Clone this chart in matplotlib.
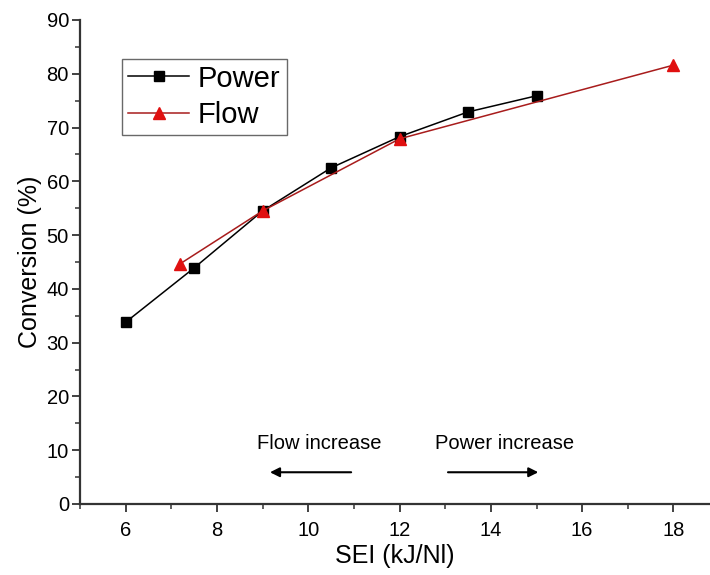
import matplotlib.pyplot as plt
from matplotlib.ticker import MultipleLocator

plt.rcParams["font.family"] = ["Liberation Sans", "DejaVu Sans"]

# Data
power_sei = [6, 7.5, 9, 10.5, 12, 13.5, 15]
power_conv = [33.8, 43.9, 54.5, 62.5, 68.3, 72.9, 75.9]
flow_sei = [7.2, 9, 12, 18]
flow_conv = [44.7, 54.5, 67.9, 81.6]

fig = plt.figure(figsize=(7.1, 5.75), dpi=100)
ax = fig.add_axes([0.1127, 0.1235, 0.8873, 0.8418])

ax.plot(power_sei, power_conv, color="black", linewidth=1.1, marker="s",
        markersize=7, label="Power", zorder=3)
ax.plot(flow_sei, flow_conv, color="#a81c1c", linewidth=1.1, marker="^",
        markersize=8, markerfacecolor="#e01010", markeredgecolor="#e01010",
        label="Flow", zorder=4)

ax.set_xlim(5, 18.8)
ax.set_ylim(0, 90)
ax.xaxis.set_major_locator(MultipleLocator(2))
ax.xaxis.set_minor_locator(MultipleLocator(1))
ax.yaxis.set_major_locator(MultipleLocator(10))
ax.yaxis.set_minor_locator(MultipleLocator(5))
ax.set_xticks([6, 8, 10, 12, 14, 16, 18])

for side in ("top", "right"):
    ax.spines[side].set_visible(False)
for side in ("left", "bottom"):
    ax.spines[side].set_linewidth(1.6)
    ax.spines[side].set_color("#333333")

ax.tick_params(which="major", direction="out", length=6, width=1.3,
               labelsize=14.5, colors="#333333", labelcolor="black")
ax.tick_params(axis="x", which="major", pad=6)
ax.tick_params(axis="y", which="major", pad=2)
ax.tick_params(which="minor", direction="out", length=3.5, width=1.1,
               colors="#333333")

ax.set_xlabel("SEI (kJ/Nl)", fontsize=18, labelpad=3)
ax.set_ylabel("Conversion (%)", fontsize=18, labelpad=3)

leg = ax.legend(loc="upper left", bbox_to_anchor=(0.067, 0.92), fontsize=21,
                frameon=True, fancybox=False, edgecolor="#444444",
                handlelength=2.1, handletextpad=0.3, borderpad=0.2,
                labelspacing=0.3, borderaxespad=0)
leg.get_frame().set_linewidth(1.0)

# direction arrows
ax.annotate("", xy=(9.1, 5.9), xytext=(11.0, 5.9),
            arrowprops=dict(arrowstyle="-|>", color="black", lw=1.5,
                            mutation_scale=14))
ax.text(10.25, 11.3, "Flow increase", fontsize=14.5, ha="center", va="center")
ax.annotate("", xy=(15.1, 5.9), xytext=(13.0, 5.9),
            arrowprops=dict(arrowstyle="-|>", color="black", lw=1.5,
                            mutation_scale=14))
ax.text(14.3, 11.3, "Power increase", fontsize=14.5, ha="center", va="center")

fig.savefig("out.png", dpi=100)
